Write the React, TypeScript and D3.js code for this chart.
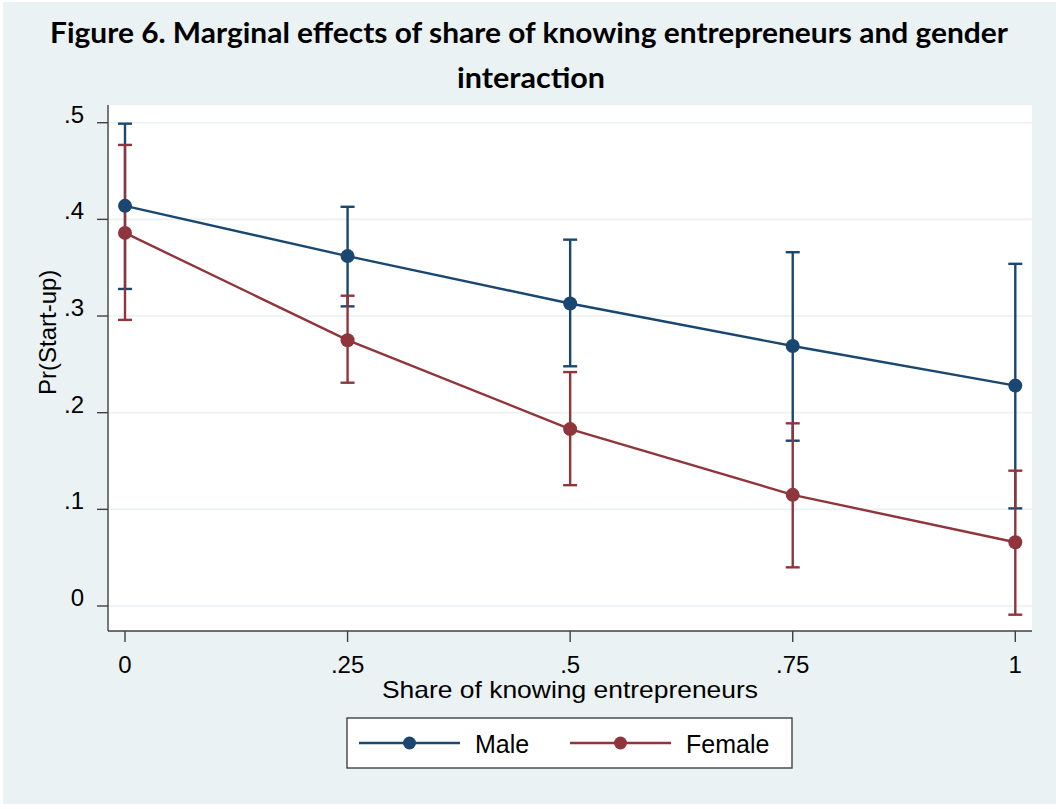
import React from "react";
import * as d3 from "d3";

const shares = [0, 0.25, 0.5, 0.75, 1];
const xTickLabels = ["0", ".25", ".5", ".75", "1"];
const yTicks = [0, 0.1, 0.2, 0.3, 0.4, 0.5];
const yTickLabels = ["0", ".1", ".2", ".3", ".4", ".5"];

const maleMargin = [0.414, 0.362, 0.313, 0.269, 0.228];
const maleLower = [0.328, 0.310, 0.248, 0.171, 0.101];
const maleUpper = [0.499, 0.413, 0.379, 0.366, 0.354];

const femaleMargin = [0.386, 0.275, 0.183, 0.115, 0.066];
const femaleLower = [0.296, 0.231, 0.125, 0.040, -0.009];
const femaleUpper = [0.477, 0.321, 0.242, 0.189, 0.140];

const seriesNames = ["Male", "Female"];
const seriesColors = ["#1a476f", "#90353b"];

const W = 1056;
const H = 809;
const BG = "#eaf2f3";
const FONT = "'Liberation Sans', Arial, Helvetica, sans-serif";

export default function App() {
  const x = d3.scaleLinear().domain([0, 1]).range([125, 1015.3]);
  const y = d3.scaleLinear().domain([0, 0.5]).range([606, 122.7]);
  const plot = { left: 108, right: 1032, top: 105, bottom: 631 };

  const series = [
    { margin: maleMargin, lower: maleLower, upper: maleUpper },
    { margin: femaleMargin, lower: femaleLower, upper: femaleUpper },
  ];

  const line = d3
    .line<number>()
    .x((_, i) => x(shares[i]))
    .y((d) => y(d));

  const capHalf = 7;

  return (
    <svg
      width={W}
      height={H}
      style={{ position: "absolute", left: 0, top: 0, display: "block" }}
    >
      <rect x={0} y={0} width={W} height={H} fill="#ffffff" />
      <rect x={3} y={2} width={W - 3} height={802} fill={BG} />

      {/* title */}
      <text
        x={529}
        y={43}
        textAnchor="middle"
        fontFamily="Lato, 'Open Sans', sans-serif"
        fontWeight="bold"
        fontSize={28}
        textLength={958}
        lengthAdjust="spacingAndGlyphs"
        fill="#000"
      >
        Figure 6. Marginal effects of share of knowing entrepreneurs and gender
      </text>
      <text
        x={531}
        y={88}
        textAnchor="middle"
        fontFamily="Lato, 'Open Sans', sans-serif"
        fontWeight="bold"
        fontSize={28}
        textLength={148}
        lengthAdjust="spacingAndGlyphs"
        fill="#000"
      >
        interaction
      </text>

      {/* plot region */}
      <rect
        x={plot.left}
        y={plot.top}
        width={plot.right - plot.left}
        height={plot.bottom - plot.top}
        fill="#ffffff"
      />
      {yTicks.map((t) => (
        <line
          key={"g" + t}
          x1={plot.left}
          x2={plot.right}
          y1={y(t)}
          y2={y(t)}
          stroke={BG}
          strokeWidth={1.6}
        />
      ))}

      {/* axes */}
      <line x1={plot.left} x2={plot.left} y1={plot.top} y2={plot.bottom} stroke="#404040" strokeWidth={1.4} />
      <line x1={plot.left} x2={plot.right} y1={plot.bottom} y2={plot.bottom} stroke="#404040" strokeWidth={1.4} />
      {yTicks.map((t, i) => (
        <g key={"yt" + t}>
          <line x1={plot.left - 11} x2={plot.left} y1={y(t)} y2={y(t)} stroke="#404040" strokeWidth={1.4} />
          <text
            x={84}
            y={y(t)}
            textAnchor="end"
            fontFamily={FONT}
            fontSize={24}
            fill="#000"
          >
            {yTickLabels[i]}
          </text>
        </g>
      ))}
      {shares.map((s, i) => (
        <g key={"xt" + s}>
          <line x1={x(s)} x2={x(s)} y1={plot.bottom} y2={plot.bottom + 11} stroke="#404040" strokeWidth={1.4} />
          <text
            x={x(s)}
            y={673}
            textAnchor="middle"
            fontFamily={FONT}
            fontSize={24}
            fill="#000"
          >
            {xTickLabels[i]}
          </text>
        </g>
      ))}
      <text
        x={570}
        y={698}
        textAnchor="middle"
        fontFamily={FONT}
        fontSize={24}
        textLength={376}
        lengthAdjust="spacingAndGlyphs"
        fill="#000"
      >
        Share of knowing entrepreneurs
      </text>
      <text
        transform="translate(56,395) rotate(-90)"
        textAnchor="start"
        fontFamily={FONT}
        fontSize={24}
        fill="#000"
      >
        Pr(Start-up)
      </text>

      {/* error bars */}
      {series.map((s, si) => (
        <g key={"ci" + si} stroke={seriesColors[si]} strokeWidth={2.4}>
          {shares.map((sh, i) => (
            <g key={i}>
              <line x1={x(sh)} x2={x(sh)} y1={y(s.lower[i])} y2={y(s.upper[i])} />
              <line x1={x(sh) - capHalf} x2={x(sh) + capHalf} y1={y(s.lower[i])} y2={y(s.lower[i])} />
              <line x1={x(sh) - capHalf} x2={x(sh) + capHalf} y1={y(s.upper[i])} y2={y(s.upper[i])} />
            </g>
          ))}
        </g>
      ))}

      {/* lines and markers */}
      {series.map((s, si) => (
        <g key={"ln" + si}>
          <path d={line(s.margin) || ""} fill="none" stroke={seriesColors[si]} strokeWidth={2.4} />
          {s.margin.map((v, i) => (
            <circle key={i} cx={x(shares[i])} cy={y(v)} r={7} fill={seriesColors[si]} />
          ))}
        </g>
      ))}

      {/* legend */}
      <rect x={347} y={718} width={445} height={50} fill="#ffffff" stroke="#333" strokeWidth={1.3} />
      {seriesNames.map((name, i) => {
        const x0 = i === 0 ? 359 : 570;
        return (
          <g key={name}>
            <line x1={x0} x2={x0 + 101} y1={743} y2={743} stroke={seriesColors[i]} strokeWidth={2.4} />
            <circle cx={x0 + 50.5} cy={743} r={6.5} fill={seriesColors[i]} />
            <text
              x={x0 + 116}
              y={753}
              fontFamily={FONT}
              fontSize={25}
              fill="#000"
            >
              {name}
            </text>
          </g>
        );
      })}
    </svg>
  );
}
